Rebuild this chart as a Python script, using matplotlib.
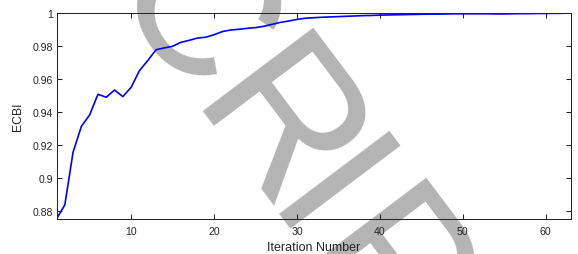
import matplotlib.pyplot as plt
import numpy as np
from matplotlib.ticker import FormatStrFormatter

# Iteraciones y valores de ECBI
iteraciones = list(range(1, 63))
ecbi = [0.8753, 0.8838, 0.9158, 0.9315, 0.9384, 0.9509, 0.9491, 0.9535, 0.9495, 0.9551,
        0.9652, 0.9713, 0.9779, 0.9790, 0.9800, 0.9824, 0.9836, 0.9850, 0.9855, 0.9870,
        0.9889, 0.9899, 0.9903, 0.9909, 0.9913, 0.9921, 0.9933, 0.9945, 0.9953, 0.9963,
        0.9970, 0.9973, 0.9976, 0.9978, 0.9980, 0.9982, 0.9984, 0.9986, 0.9987, 0.9989,
        0.9990, 0.9991, 0.9992, 0.9993, 0.9994, 0.9995, 0.9995, 0.9996, 0.9997, 0.9997,
        0.9997, 0.9997, 0.9997, 0.9996, 0.9996, 0.9997, 0.9998, 0.9998, 0.9999, 0.9999,
        1.0000, 1.0000]

x_ticks = [10, 20, 30, 40, 50, 60]
y_ticks = [0.88, 0.90, 0.92, 0.94, 0.96, 0.98, 1.00]

# Letras de la marca de agua (posicion en pixeles de la imagen, y hacia abajo)
marca = ['C', 'R', 'I', 'P']
marca_pos = [(146, 50), (229, 167), (276, 235), (339, 313)]

W, H = 578, 255
plt.rcParams['font.family'] = ['Liberation Sans', 'DejaVu Sans']
oscuro = '#262626'

fig = plt.figure(figsize=(W / 100, H / 100), dpi=100)
ax = fig.add_axes([56.5 / W, 1 - 220 / H, (570.5 - 56.5) / W, (220 - 14.3) / H])

ax.plot(iteraciones, ecbi, color='#0000ff', lw=1.2, zorder=2)

ax.set_xlim(1, 63)
ax.set_ylim(0.8753, 1)
ax.set_xticks(x_ticks)
ax.set_yticks(y_ticks)
ax.yaxis.set_major_formatter(FormatStrFormatter('%g'))
ax.tick_params(direction='in', length=3.6, width=0.75, top=True, right=True,
               labelsize=7.6, colors=oscuro)
ax.tick_params(axis='y', pad=2.4)
ax.tick_params(axis='x', pad=5.2)
for s in ax.spines.values():
    s.set_color(oscuro)
    s.set_linewidth(0.75)

ax.set_xlabel('Iteration Number', fontsize=9, color=oscuro, labelpad=3.5)
ax.set_ylabel('ECBI', fontsize=8.8, color=oscuro, labelpad=6)

# Marca de agua
for letra, (px, py) in zip(marca, marca_pos):
    ax.text(px / W, 1 - py / H, letra, transform=fig.transFigure, fontsize=144,
            color='#b4b4b4', rotation=-53, rotation_mode='anchor',
            ha='center', va='baseline', clip_on=False, zorder=1.5)

fig.savefig('out.png', dpi=100)
